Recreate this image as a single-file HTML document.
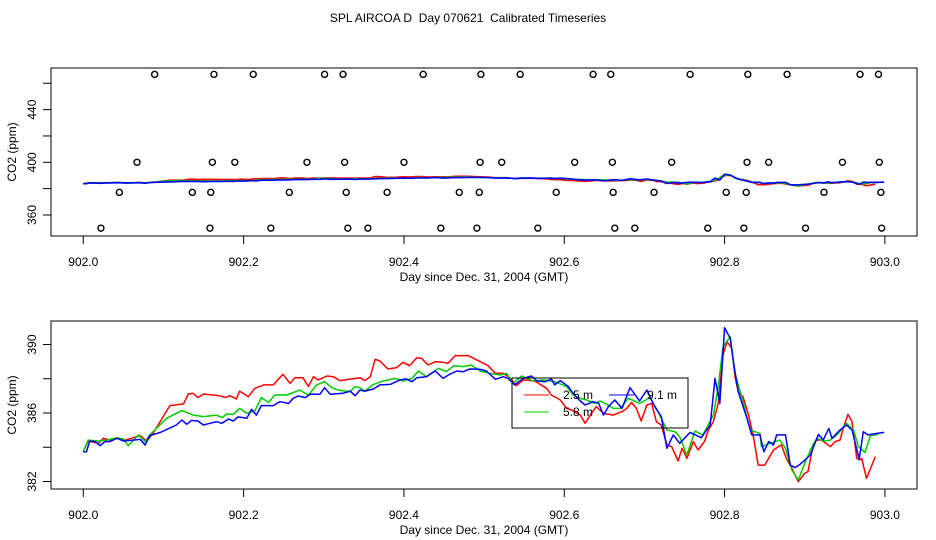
<!DOCTYPE html>
<html><head><meta charset="utf-8"><style>
html,body{margin:0;padding:0;background:#fff;}
svg{display:block;font-family:"Liberation Sans",Arial,sans-serif;}
</style></head><body>
<svg id="chart" width="936" height="540" viewBox="0 0 936 540">
<text x="468" y="22" font-size="12" text-anchor="middle" style="white-space:pre">SPL AIRCOA D  Day 070621  Calibrated Timeseries</text>
</svg>
<script>
// ---- data ----
const redDays=[0,.006,.019,.025,.033,.042,.052,.071,.079,.087,.108,.125,.131,.137,.143,.150,.170,.177,.183,.191,.195,.206,.214,.225,.237,.249,.258,.264,.274,.281,.287,.293,.304,.312,.320,.345,.351,.358,.364,.370,.380,.391,.399,.407,.416,.422,.430,.439,.449,.455,.464,.480,.491,
.495,.505,.514,.524,.532,.540,.549,.563,.578,.584,.595,.603,.609,.620,.626,.634,.640,.649,.661,.672,.678,.684,.690,.696,.703,.709,.715,.721,.728,.734,.742,.747,.753,.761,.767,.775,.780,.786,.792,.798,.803,.809,.813,.817,.823,.830,.836,.842,.850,.861,.867,.871,.877,.884,.892,.900,.904,.911,.915,.921,.932,.938,.944,.948,.954,.959,.965,.969,.971,.977,.988];
const redPpm=[383.74,384.36,384.23,384.52,384.42,384.56,384.42,384.68,384.36,384.81,386.43,386.53,387.11,387.15,386.90,387.11,387.01,386.90,387.01,386.82,387.28,386.95,387.44,387.64,387.64,388.26,387.73,388.06,388.06,387.54,388.12,387.93,388.16,388.12,387.89,388.06,387.89,388.12,389.13,389.04,388.57,388.65,388.96,388.76,389.23,389.19,388.80,388.99,388.96,388.90,389.35,389.35,389.09,
389.00,388.76,388.32,388.32,388.06,387.60,387.93,387.87,387.44,387.05,386.76,386.27,386.18,385.88,385.40,385.98,386.37,385.98,385.88,386.08,386.27,386.62,386.27,385.53,386.47,386.56,385.49,385.30,384.13,384.03,383.20,383.94,383.35,384.33,383.84,384.33,385.01,385.49,386.56,389.39,390.17,389.78,388.12,387.25,386.95,385.88,384.62,382.96,382.96,383.84,384.03,384.13,383.35,382.77,381.99,382.48,382.57,384.23,384.42,384.42,384.03,384.33,384.42,385.10,385.92,385.49,383.35,383.26,383.35,382.18,383.45];
const blueDays=[0,.004,.008,.015,.021,.027,.033,.042,.050,.071,.077,.083,.096,.116,.123,.129,.135,.143,.150,.158,.166,.173,.181,.187,.193,.204,.210,.216,.222,.237,.245,.256,.262,.268,.277,.283,.295,.301,.308,.324,.333,.339,.345,.351,.362,.370,.383,.395,.403,.410,.416,.428,.439,.449,.457,.466,.474,.482,
.495,.503,.514,.524,.530,.538,.549,.559,.566,.576,.584,.588,.595,.605,.611,.620,.626,.636,.643,.649,.655,.663,.672,.682,.694,.703,.713,.721,.728,.736,.744,.757,.771,.782,.788,.794,.800,.807,.811,.817,.828,.834,.844,.849,.855,.861,.865,.876,.882,.888,.894,.907,.917,.923,.930,.934,.944,.952,.959,.968,.973,.979,.990,.999];
const bluePpm=[383.74,383.74,384.36,384.33,384.09,384.33,384.33,384.52,384.36,384.46,384.13,384.68,384.87,385.30,385.59,385.34,385.57,385.53,385.30,385.40,385.49,385.40,385.65,385.53,385.77,385.69,386.21,385.88,386.43,386.43,386.66,386.56,386.86,386.99,386.90,387.09,387.09,387.48,387.09,387.15,387.28,387.01,387.34,387.28,387.40,387.64,387.67,387.93,387.99,387.83,388.06,388.12,388.45,388.02,388.26,388.45,388.41,388.57,
388.55,388.45,387.97,388.12,388.02,387.64,388.02,388.16,387.87,387.83,387.99,387.64,387.89,387.54,387.15,386.70,386.47,386.66,386.56,385.88,386.37,386.76,386.27,387.48,386.70,387.34,386.37,385.79,383.94,384.72,384.23,384.87,384.56,385.30,388.02,386.56,390.98,390.36,389.00,387.25,385.69,384.72,384.72,383.74,384.33,384.13,384.72,384.72,382.96,382.81,383.00,383.55,384.75,384.42,385.10,384.52,385.01,385.30,385.01,383.31,384.91,384.72,384.81,384.87];
const greenDays=[0,.006,.019,.029,.042,.050,.056,.069,.077,.083,.104,.123,.137,.150,.166,.173,.179,.187,.195,.204,.214,.222,.231,.239,.254,.270,.281,.291,.301,.310,.318,.333,.339,.345,.351,.362,.374,.389,.399,.410,.418,.428,.443,.453,.462,.474,.484,
.495,.507,.520,.528,.536,.547,.561,.574,.588,.603,.611,.620,.628,.638,.645,.653,.661,.670,.680,.694,.707,.717,.728,.738,.744,.753,.763,.773,.786,.792,.798,.807,.813,.823,.832,.844,.846,.857,.869,.876,.884,.892,.900,.909,.915,.923,.932,.942,.952,.961,.967,.975,.982,.992];
const greenPpm=[383.74,384.42,384.36,384.42,384.56,384.48,384.09,384.72,384.33,384.72,385.69,386.14,385.88,385.79,385.88,385.73,385.94,385.92,386.27,385.98,386.12,386.90,386.62,387.05,387.05,387.34,387.05,387.64,387.83,387.48,387.34,387.25,387.54,387.48,387.28,387.67,387.87,388.02,387.87,388.02,388.45,388.12,388.61,388.41,388.76,388.71,388.80,
388.45,388.32,388.22,388.32,387.73,388.16,387.87,387.93,387.83,387.54,387.05,386.86,386.76,386.56,386.70,386.51,386.27,386.27,386.86,386.56,386.90,386.08,385.01,384.91,384.62,383.55,384.95,384.72,385.88,387.54,389.87,390.46,388.32,386.66,385.01,384.81,384.03,384.23,384.42,383.94,382.67,382.09,383.06,384.03,384.52,384.36,384.42,384.81,385.40,385.01,384.03,383.70,384.68,384.75];
const obsHiDays=[.089,.163,.212,.301,.324,.424,.496,.545,.636,.658,.757,.829,.878,.969,.992];
const obsHiPpm=466.8;
const obs400Days=[.067,.161,.189,.279,.326,.400,.495,.522,.613,.660,.734,.828,.855,.947,.993];
const obs400Ppm=400;
const obs377Days=[.045,.136,.159,.257,.328,.379,.469,.494,.590,.661,.712,.802,.827,.924,.995];
const obs377Ppm=377.2;
const obs350Days=[.022,.158,.234,.330,.355,.446,.491,.567,.663,.688,.779,.824,.901,.996];
const obs350Ppm=350;
const xTicks=[902.0,902.2,902.4,902.6,902.8,903.0];
const xTickLabels=["902.0","902.2","902.4","902.6","902.8","903.0"];
const topYTicks=[360,380,400,420,440,460];
const topYLabels=["360","","400","","440",""];
const botYTicks=[382,384,386,388,390];
const botYLabels=["382","","386","","390"];
const seriesNames=["2.5 m","5.8 m","9.1 m"];

// ---- drawing ----
const NS="http://www.w3.org/2000/svg";
const svg=document.getElementById('chart');
function mk(tag,attrs,parent){const e=document.createElementNS(NS,tag);for(const k in attrs)e.setAttribute(k,attrs[k]);(parent||svg).appendChild(e);return e;}
const xScale=d=>83.3+(d-902)*801.6;

function panel(name,top,bottom,yScale,yTicks,yLabels){
  const g=mk('g',{});
  
  
  const box=mk('rect',{x:51,y:top,width:866,height:bottom-top,fill:'none',stroke:'#000','stroke-width':1},g);
  
  
  xTicks.forEach((t,i)=>{
    const x=xScale(t);
    const l=mk('line',{x1:x,x2:x,y1:bottom,y2:bottom+8,stroke:'#000'},g);
    
    
    const tx=mk('text',{x:x,y:bottom+30,'font-size':12,'text-anchor':'middle'},g);
    tx.textContent=xTickLabels[i];
    
    
  });
  yTicks.forEach((t,i)=>{
    const y=yScale(t);
    const l=mk('line',{x1:43,x2:51,y1:y,y2:y,stroke:'#000'},g);
    
    
    if(yLabels[i]){
      const tx=mk('text',{x:0,y:0,'font-size':12,'text-anchor':'middle',transform:`translate(36,${y}) rotate(-90)`},g);
      tx.textContent=yLabels[i];
      
      
    }
  });
  const xt=mk('text',{x:484,y:bottom+45,'font-size':12,'text-anchor':'middle'},g);
  xt.textContent="Day since Dec. 31, 2004 (GMT)";
  
  
  const yt=mk('text',{x:0,y:0,'font-size':12,'text-anchor':'middle',transform:`translate(16,${(top+bottom)/2}) rotate(-90)`},g);
  yt.textContent="CO2 (ppm)";
  
  
  return g;
}
function line(g,days,ppm,color,yScale,name,w){
  const pts=days.map((d,i)=>xScale(902+d).toFixed(1)+','+yScale(ppm[i]).toFixed(1)).join(' ');
  const p=mk('polyline',{points:pts,fill:'none',stroke:color,'stroke-width':w,'stroke-linejoin':'round'},g);
  
  
}
// top panel
const topY=v=>162.3-(v-400)*1.317;
const gt=panel('top-panel',68,236,topY,topYTicks,topYLabels);
line(gt,redDays,redPpm,'#f00',topY,'top-series-2-5m',1.6);
line(gt,greenDays,greenPpm,'#0c0',topY,'top-series-5-8m',1.6);
line(gt,blueDays,bluePpm,'#00f',topY,'top-series-9-1m',1.6);
[[obsHiDays,obsHiPpm],[obs400Days,obs400Ppm],[obs377Days,obs377Ppm],[obs350Days,obs350Ppm]].forEach(([ds,v])=>{
  ds.forEach(d=>{
    const c=mk('circle',{cx:xScale(902+d),cy:topY(v),r:3,fill:'none',stroke:'#000','stroke-width':1.4},gt);
    
    
  });
});
// bottom panel
const botY=v=>413-(v-386)*17.125;
const gb=panel('bottom-panel',321,489,botY,botYTicks,botYLabels);
line(gb,redDays,redPpm,'#f00',botY,'series-2-5m',1.5);
line(gb,greenDays,greenPpm,'#0c0',botY,'series-5-8m',1.5);
line(gb,blueDays,bluePpm,'#00f',botY,'series-9-1m',1.5);
// legend
const lg=mk('g',{});


mk('rect',{x:512,y:378,width:176,height:50,fill:'none',stroke:'#000'},lg);
const entries=[[524,395,'#f00',0,563],[524,412,'#0c0',1,563],[609,395,'#00f',2,647]];
entries.forEach(([x,y,c,i,tx])=>{
  const e=mk('g',{},lg);
  
  
  mk('line',{x1:x,x2:x+25,y1:y,y2:y,stroke:c,'stroke-width':1},e);
  const t=mk('text',{x:tx,y:y+4,'font-size':12},e);
  t.textContent=seriesNames[i];
});
</script>
</body></html>
